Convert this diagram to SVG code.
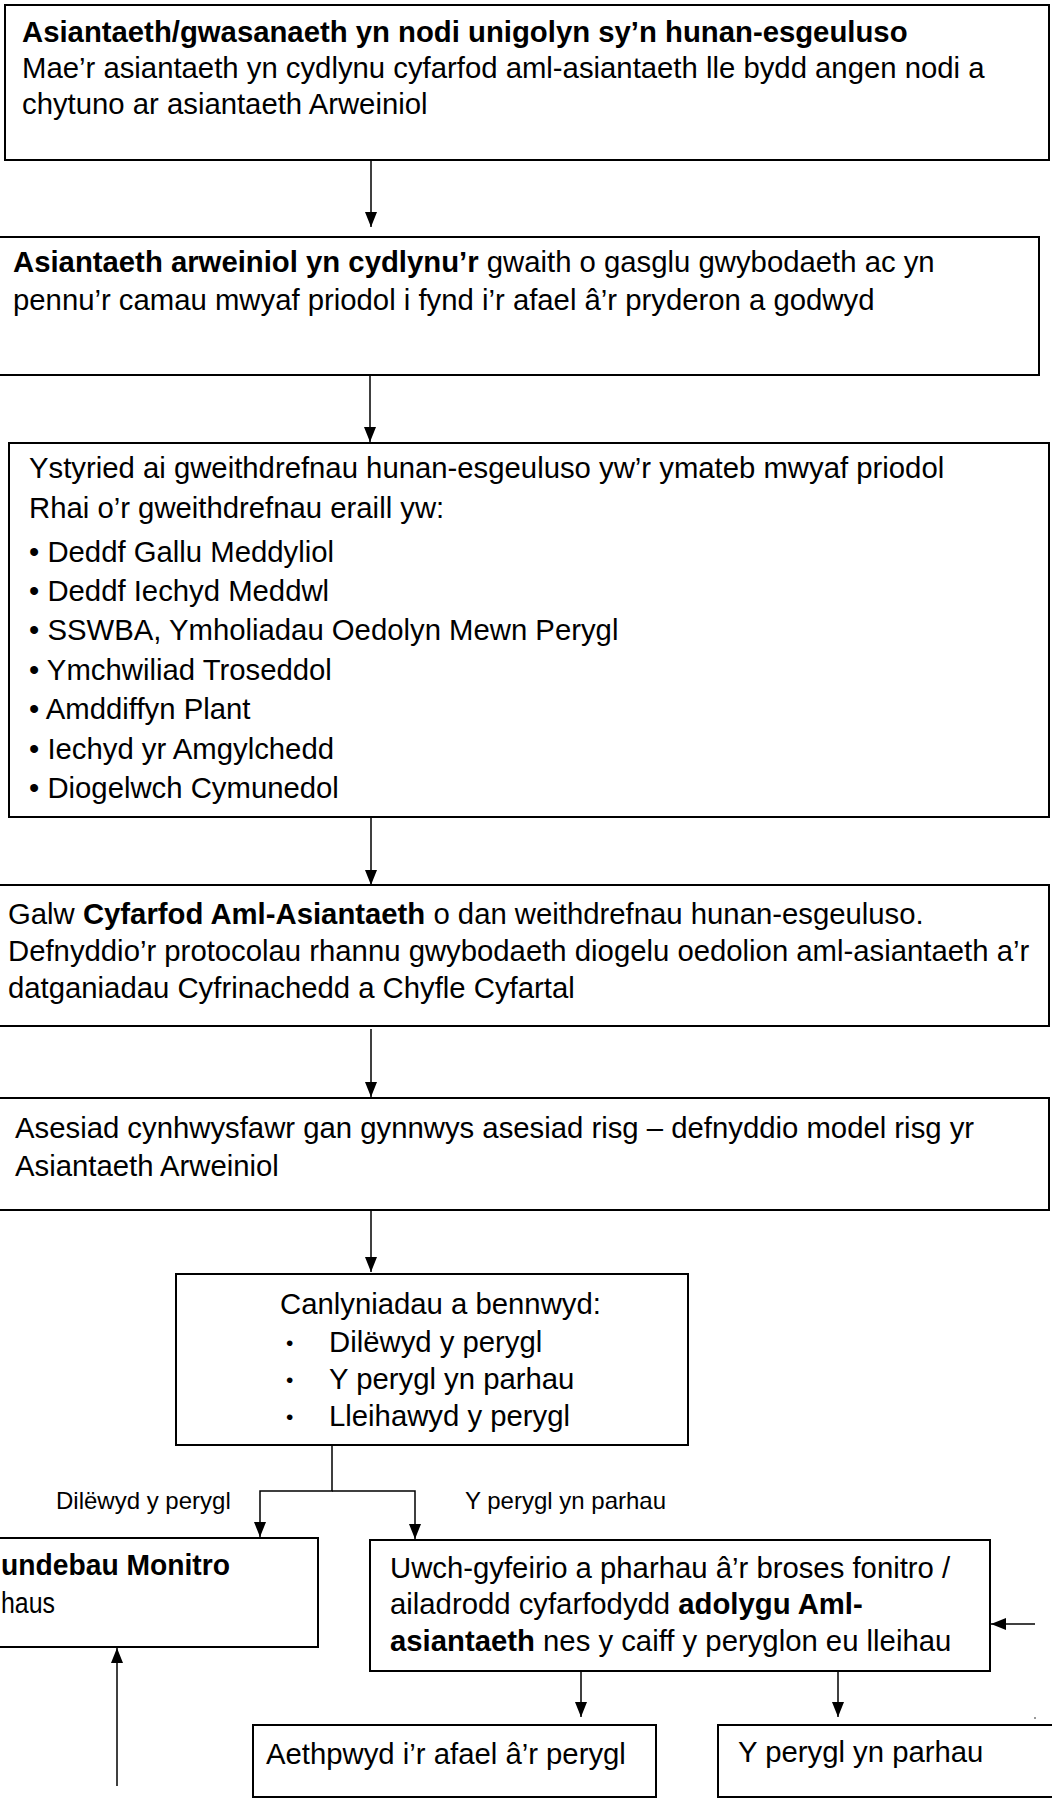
<svg xmlns="http://www.w3.org/2000/svg" width="1052" height="1799" viewBox="0 0 1052 1799">
<style>
  .box { fill: #ffffff; stroke: #000000; stroke-width: 2; }
  .t { font-family: "Liberation Sans", Arial, sans-serif; font-size: 29.3px; fill: #000000; }
  .b { font-weight: bold; }
  .lbl { font-family: "Liberation Sans", Arial, sans-serif; font-size: 24px; fill: #000000; }
  .sb { font-size: 21px; }
  .conn { fill: none; stroke: #000000; stroke-width: 1.5; }
</style>
<defs>
  <marker id="ah" viewBox="0 0 15 12" markerWidth="15" markerHeight="12" refX="15" refY="6" orient="auto" markerUnits="userSpaceOnUse">
    <path d="M0,0 L15,6 L0,12 z" fill="#000000"/>
  </marker>
</defs>
<rect width="1052" height="1799" fill="#ffffff"/>

<g id="n1">
  <rect class="box" x="5" y="5" width="1044" height="155"/>
  <text class="t b" x="22" y="42">Asiantaeth/gwasanaeth yn nodi unigolyn sy’n hunan-esgeuluso</text>
  <text class="t" x="22" y="78">Mae’r asiantaeth yn cydlynu cyfarfod aml-asiantaeth lle bydd angen nodi a</text>
  <text class="t" x="22" y="114">chytuno ar asiantaeth Arweiniol</text>
</g>

<g id="n2">
  <rect class="box" x="-10" y="237" width="1049" height="138"/>
  <text class="t" x="13" y="272"><tspan class="b">Asiantaeth arweiniol yn cydlynu’r</tspan> gwaith o gasglu gwybodaeth ac yn</text>
  <text class="t" x="13" y="310">pennu’r camau mwyaf priodol i fynd i’r afael â’r pryderon a godwyd</text>
</g>

<g id="n3">
  <rect class="box" x="9" y="443" width="1040" height="374"/>
  <text class="t" x="29" y="478">Ystyried ai gweithdrefnau hunan-esgeuluso yw’r ymateb mwyaf priodol</text>
  <text class="t" x="29" y="518">Rhai o’r gweithdrefnau eraill yw:</text>
  <text class="t" x="29" y="562">• Deddf Gallu Meddyliol</text>
  <text class="t" x="29" y="601">• Deddf Iechyd Meddwl</text>
  <text class="t" x="29" y="640">• SSWBA, Ymholiadau Oedolyn Mewn Perygl</text>
  <text class="t" x="29" y="680">• Ymchwiliad Troseddol</text>
  <text class="t" x="29" y="719">• Amddiffyn Plant</text>
  <text class="t" x="29" y="759">• Iechyd yr Amgylchedd</text>
  <text class="t" x="29" y="798">• Diogelwch Cymunedol</text>
</g>

<g id="n4">
  <rect class="box" x="-10" y="885" width="1059" height="141"/>
  <text class="t" x="8" y="924">Galw <tspan class="b">Cyfarfod Aml-Asiantaeth</tspan> o dan weithdrefnau hunan-esgeuluso.</text>
  <text class="t" x="8" y="961">Defnyddio’r protocolau rhannu gwybodaeth diogelu oedolion aml-asiantaeth a’r</text>
  <text class="t" x="8" y="998">datganiadau Cyfrinachedd a Chyfle Cyfartal</text>
</g>

<g id="n5">
  <rect class="box" x="-10" y="1098" width="1059" height="112"/>
  <text class="t" x="15" y="1138">Asesiad cynhwysfawr gan gynnwys asesiad risg – defnyddio model risg yr</text>
  <text class="t" x="15" y="1176">Asiantaeth Arweiniol</text>
</g>

<g id="n6">
  <rect class="box" x="176" y="1274" width="512" height="171"/>
  <text class="t" x="280" y="1314">Canlyniadau a bennwyd:</text>
  <text class="t sb" x="286" y="1350">•</text>
  <text class="t" x="329" y="1352">Dilëwyd y perygl</text>
  <text class="t sb" x="286" y="1387">•</text>
  <text class="t" x="329" y="1389">Y perygl yn parhau</text>
  <text class="t sb" x="286" y="1424">•</text>
  <text class="t" x="329" y="1426">Lleihawyd y perygl</text>
</g>

<g id="n7">
  <rect class="box" x="-10" y="1538" width="328" height="109"/>
  <text class="t b" x="1" y="1575" textLength="229" lengthAdjust="spacingAndGlyphs">undebau Monitro</text>
  <text class="t" x="1" y="1613" textLength="54" lengthAdjust="spacingAndGlyphs">haus</text>
</g>

<g id="n8">
  <rect class="box" x="370" y="1540" width="620" height="131"/>
  <text class="t" x="390" y="1578">Uwch-gyfeirio a pharhau â’r broses fonitro /</text>
  <text class="t" x="390" y="1614">ailadrodd cyfarfodydd <tspan class="b">adolygu Aml-</tspan></text>
  <text class="t" x="390" y="1651"><tspan class="b">asiantaeth</tspan> nes y caiff y peryglon eu lleihau</text>
</g>

<g id="n9">
  <rect class="box" x="253" y="1725" width="403" height="72"/>
  <text class="t" x="266" y="1764">Aethpwyd i’r afael â’r perygl</text>
</g>

<g id="n10">
  <rect class="box" x="718" y="1725" width="345" height="72"/>
  <text class="t" x="738" y="1762">Y perygl yn parhau</text>
</g>

<g id="connectors">
  <line class="conn" x1="371" y1="161" x2="371" y2="227" marker-end="url(#ah)"/>
  <line class="conn" x1="370" y1="376" x2="370" y2="442" marker-end="url(#ah)"/>
  <line class="conn" x1="371" y1="818" x2="371" y2="885" marker-end="url(#ah)"/>
  <line class="conn" x1="371" y1="1029" x2="371" y2="1097" marker-end="url(#ah)"/>
  <line class="conn" x1="371" y1="1211" x2="371" y2="1272" marker-end="url(#ah)"/>
  <polyline class="conn" points="332,1446 332,1491 260,1491 260,1537" marker-end="url(#ah)"/>
  <polyline class="conn" points="332,1491 415,1491 415,1539" marker-end="url(#ah)"/>
  <line class="conn" x1="117" y1="1786" x2="117" y2="1648" marker-end="url(#ah)"/>
  <line class="conn" x1="1035" y1="1624" x2="991" y2="1624" marker-end="url(#ah)"/>
  <line class="conn" x1="581" y1="1672" x2="581" y2="1717" marker-end="url(#ah)"/>
  <line class="conn" x1="838" y1="1672" x2="838" y2="1717" marker-end="url(#ah)"/>
  <text class="lbl" x="56" y="1509">Dilëwyd y perygl</text>
  <text class="lbl" x="465" y="1509">Y perygl yn parhau</text>
</g>
<rect x="1034" y="1717" width="2" height="2" fill="#999999"/>
</svg>
